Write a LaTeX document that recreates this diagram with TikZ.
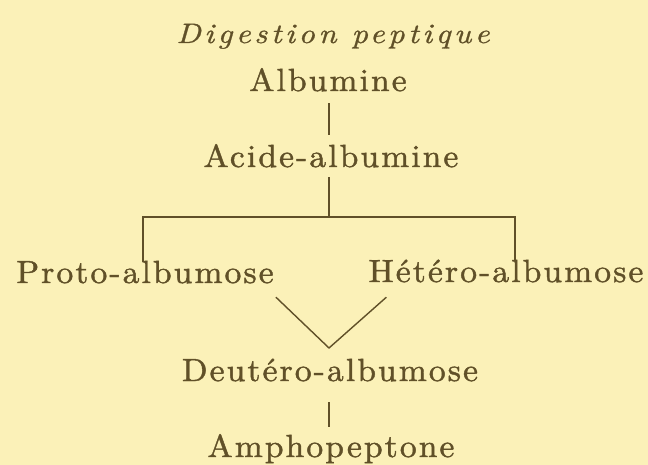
\documentclass[tikz,border=0pt]{standalone}
\usepackage{fontspec}
\usetikzlibrary{positioning,calc}
\newfontfamily\plainface{lmroman10-regular.otf}[FakeStretch=1.05, LetterSpace=6.5, FakeBold=1.3]
\newfontfamily\slantface{lmroman10-italic.otf}[FakeStretch=1.15, LetterSpace=12.5, FakeBold=0.9]
\definecolor{paper}{RGB}{251,241,184}
\definecolor{ink}{RGB}{96,80,40}

\begin{document}
\begin{tikzpicture}[x=1pt, y=-1pt,
    term/.style={anchor=base, inner sep=0pt, text height=21pt, text depth=0pt,
                 text=ink, font=\plainface\fontsize{32}{36}\selectfont},
    heading/.style={anchor=base, inner sep=0pt, text=ink,
                    font=\slantface\fontsize{28}{30}\selectfont},
    link/.style={draw=ink, line width=1.4pt}
  ]
    \fill[paper] (0,0) rectangle (648,465);
    \useasboundingbox (0,0) rectangle (648,465);

    \node[heading] (head) at (333,43) {Digestion peptique};
    \node[term] (alb) at (328,91) {Albumine};
    \node[term] (acide) at (331,167) {Acide-albumine};
    \node[term] (proto) at (145,283) {Proto-albumose};
    \node[term] (hetero) at (506,282) {Hétéro-albumose};
    \node[term] (deut) at (330,381) {Deutéro-albumose};
    \node[term] (ampho) at (331,457) {Amphopeptone};

    \coordinate (fork) at (329,217);
    \coordinate (forkL) at (143,217);
    \coordinate (forkR) at (515,217);
    \coordinate (join) at (329,348);

    \draw[link, shorten <=12pt, shorten >=11pt] (alb.south -| fork) -- (fork |- acide.north);
    \draw[link, shorten <=10pt] (fork |- acide.south) -- (fork);
    \draw[link] (forkL |- proto.north) -- (forkL) -- (forkR) -- (forkR |- hetero.north);
    \draw[link] ([shift={(2,14)}]proto.south east) -- (join)
                -- ([shift={(18,15)}]hetero.south west);
    \draw[link, shorten <=21pt, shorten >=9pt] (join |- deut.south) -- (join |- ampho.north);
\end{tikzpicture}
\end{document}
